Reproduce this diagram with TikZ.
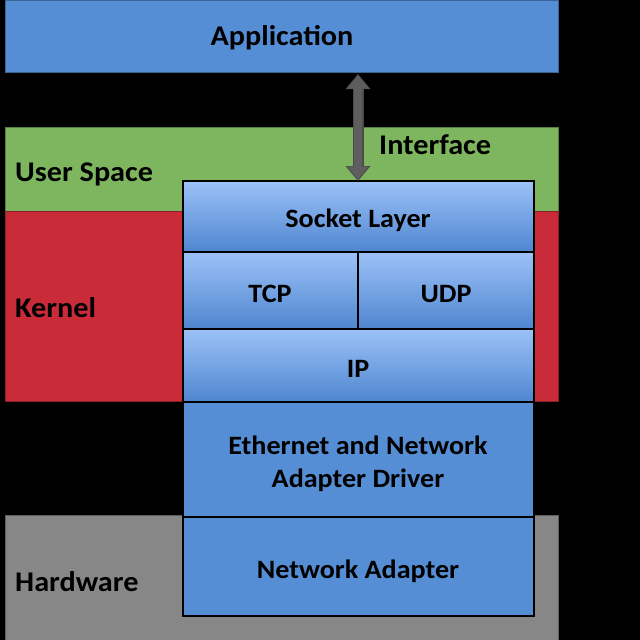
\documentclass[tikz,border=0pt]{standalone}
\usepackage{fontspec}
\setmainfont{Carlito}[FakeStretch=1.06]
\usetikzlibrary{arrows.meta}
\definecolor{appblue}{HTML}{558ED5}
\definecolor{usergreen}{HTML}{7EB65F}
\definecolor{kernred}{HTML}{C92B38}
\definecolor{hwgray}{HTML}{878787}
\definecolor{boxtop}{HTML}{9CC2F7}
\definecolor{boxbot}{HTML}{4F86D0}
\definecolor{arrowgray}{HTML}{5E5E5E}
\tikzset{
  band/.style={anchor=north west, inner sep=0pt, draw=#1!70!black, line width=0.6pt, fill=#1},
  gradbox/.style={anchor=north west, inner sep=0pt, draw=black, line width=1.5pt, top color=boxtop, bottom color=boxbot},
  flatbox/.style={anchor=north west, inner sep=0pt, draw=black, line width=1.5pt, fill=appblue},
  lbl/.style={font=\bfseries\fontsize{26.5}{33}\selectfont, text=black, inner sep=0pt},
  blbl/.style={font=\bfseries\fontsize{28.5}{33}\selectfont, text=black, inner sep=0pt},
}
\begin{document}
\begin{tikzpicture}[x=1pt,y=-1pt]
\fill[black] (0,0) rectangle (640,640);
\useasboundingbox (0,0) rectangle (640,640);
% bands
\node[band=appblue, minimum width=553pt, minimum height=72pt] (app) at (5,0) {};
\node[band=usergreen, minimum width=553pt, minimum height=84pt] (user) at (5,127) {};
\node[band=kernred, minimum width=553pt, minimum height=190pt] (kern) at (5,211) {};
\node[band=hwgray, minimum width=553pt, minimum height=130pt] (hw) at (5,515) {};
% boxes
\node[gradbox, minimum width=351pt, minimum height=71pt] (sock) at (182,180) {};
\node[gradbox, minimum width=175pt, minimum height=77pt] (tcp) at (182,251) {};
\node[gradbox, minimum width=176pt, minimum height=77pt] (udp) at (357,251) {};
\node[gradbox, minimum width=351pt, minimum height=73pt] (ip) at (182,328) {};
\node[flatbox, minimum width=351pt, minimum height=115pt] (eth) at (182,401) {};
\node[flatbox, minimum width=351pt, minimum height=99pt] (nic) at (182,516) {};
% arrow
\coordinate (atop) at (358,74);
\coordinate (abot) at (358,181);
\draw[{Triangle[width=24pt,length=15pt]}-{Triangle[width=24pt,length=15pt]}, line width=11pt, draw=black!70, fill=black!70] (atop) -- (abot);
\draw[{Triangle[width=20pt,length=13pt]}-{Triangle[width=20pt,length=13pt]}, line width=8pt, draw=arrowgray, fill=arrowgray, shorten <=1.5pt, shorten >=1.5pt] (atop) -- (abot);
% labels
\node[blbl, anchor=base] (tapp) at (282,45.5) {Application};
\node[blbl, anchor=base west] (tint) at (379,154) {Interface};
\node[blbl, anchor=base west] (tuser) at (15,181) {User Space};
\node[blbl, anchor=base west] (tkern) at (15,317) {Kernel};
\node[blbl, anchor=base west] (thw) at (15,591) {Hardware};
\node[lbl, anchor=base] (tsock) at (358,227) {Socket Layer};
\node[lbl, anchor=base] (ttcp) at (270,302) {TCP};
\node[lbl, anchor=base] (tudp) at (446,302) {UDP};
\node[lbl, anchor=base] (tip) at (358,377) {IP};
\node[lbl, anchor=base] (teth1) at (358,454) {Ethernet and Network};
\node[lbl, anchor=base] (teth2) at (358,487) {Adapter Driver};
\node[lbl, anchor=base] (tnic) at (358,578) {Network Adapter};
\end{tikzpicture}
\end{document}
